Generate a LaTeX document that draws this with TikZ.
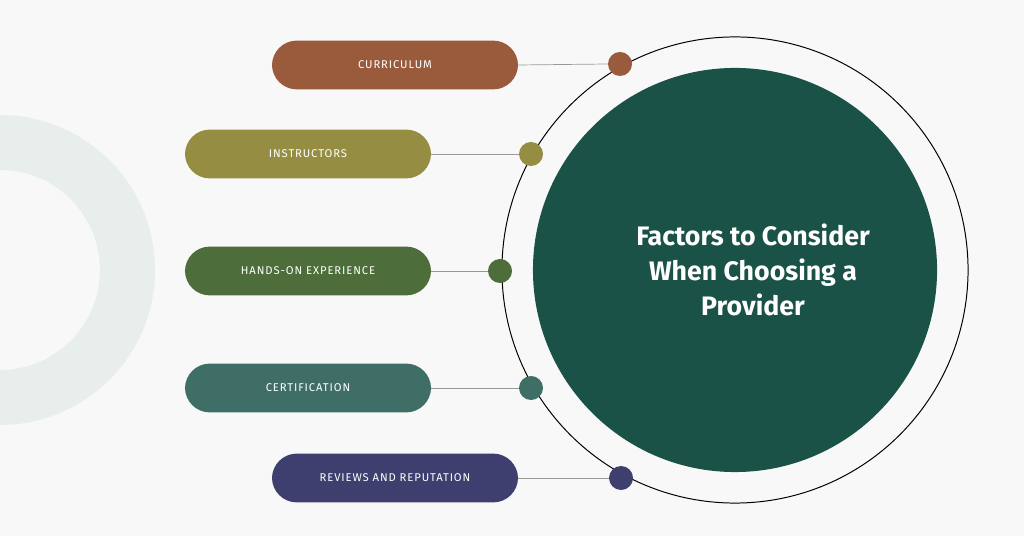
\documentclass[tikz,border=0pt]{standalone}
\usepackage{fontspec}
\setmainfont{Fira Sans}
\definecolor{bgc}{HTML}{F8F8F8}
\definecolor{ringc}{HTML}{E8EEEC}
\definecolor{hubc}{HTML}{1A5247}
\definecolor{curc}{HTML}{9A5A3C}
\definecolor{insc}{HTML}{958E42}
\definecolor{hanc}{HTML}{4D6E3A}
\definecolor{cerc}{HTML}{3F6E66}
\definecolor{revc}{HTML}{3E3F6E}
\tikzstyle{pill} = [rectangle, rounded corners=6.2mm, minimum width=6.15cm, minimum height=1.22cm, text=white, font=\fontsize{8}{9}\selectfont\addfontfeature{LetterSpace=8}]
\tikzstyle{dot} = [circle, inner sep=0pt, minimum size=0.6cm]
\tikzstyle{link} = [draw=gray!80, line width=0.5pt]

\begin{document}
\begin{tikzpicture}[x=0.025cm, y=-0.025cm]
    \fill[bgc] (0,0) rectangle (1024,536);
    \useasboundingbox (0,0) rectangle (1024,536);
    % ring on the left
    \begin{scope}
        \clip (0,0) rectangle (1024,536);
        \fill[ringc, even odd rule] (0,270) circle (155) (0,270) circle (100);
    \end{scope}
    % hub
    \node (outer) [circle, draw=black, line width=0.7pt, minimum size=11.65cm, inner sep=0pt] at (735,270) {};
    \node (hub) [circle, fill=hubc, minimum size=10.1cm, inner sep=0pt, text=white, align=center, font=\fontsize{19}{25}\selectfont\bfseries] at (735,270) {\hspace*{0.9cm}Factors to Consider\\\hspace*{0.9cm}When Choosing a\\\hspace*{0.9cm}Provider};
    % factors
    \node (cur) [pill, fill=curc] at (395,65) {CURRICULUM};
    \node (ins) [pill, fill=insc] at (308,154) {INSTRUCTORS};
    \node (han) [pill, fill=hanc] at (308,271) {HANDS-ON EXPERIENCE};
    \node (cer) [pill, fill=cerc] at (308,388) {CERTIFICATION};
    \node (rev) [pill, fill=revc] at (395,478) {REVIEWS AND REPUTATION};
    \node (dcur) [dot, fill=curc] at (620,64) {};
    \node (dins) [dot, fill=insc] at (531,154) {};
    \node (dhan) [dot, fill=hanc] at (500,271) {};
    \node (dcer) [dot, fill=cerc] at (531,388) {};
    \node (drev) [dot, fill=revc] at (621,478) {};
    \draw [link] (cur.east) -- (dcur.west);
    \draw [link] (ins.east) -- (dins.west);
    \draw [link] (han.east) -- (dhan.west);
    \draw [link] (cer.east) -- (dcer.west);
    \draw [link] (rev.east) -- (drev.west);
\end{tikzpicture}
\end{document}
